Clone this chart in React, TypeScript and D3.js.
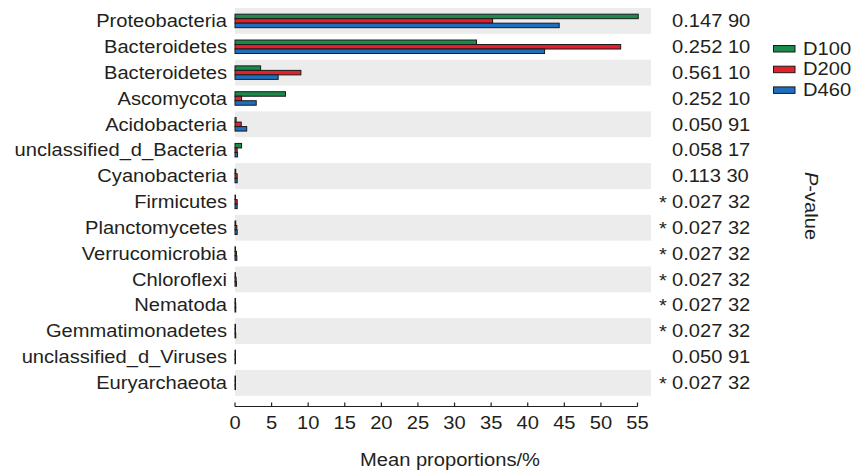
import React from "react";
import * as d3 from "d3";

const categories = [
  "Proteobacteria",
  "Bacteroidetes",
  "Bacteroidetes",
  "Ascomycota",
  "Acidobacteria",
  "unclassified_d_Bacteria",
  "Cyanobacteria",
  "Firmicutes",
  "Planctomycetes",
  "Verrucomicrobia",
  "Chloroflexi",
  "Nematoda",
  "Gemmatimonadetes",
  "unclassified_d_Viruses",
  "Euryarchaeota",
];

const seriesNames = ["D100", "D200", "D460"];
const seriesColors = ["#1b8a4a", "#e3202c", "#1f6fbe"];

const d100 = [55.1, 33.0, 3.5, 6.9, 0.15, 0.9, 0.1, 0.05, 0.1, 0.05, 0.05, 0.05, 0.05, 0.05, 0.05];
const d200 = [35.2, 52.7, 9.0, 0.9, 0.85, 0.3, 0.3, 0.3, 0.25, 0.2, 0.15, 0.1, 0.05, 0.05, 0.05];
const d460 = [44.3, 42.3, 5.9, 2.9, 1.6, 0.35, 0.3, 0.3, 0.3, 0.25, 0.2, 0.1, 0.1, 0.05, 0.05];

const pValues = [
  "0.147 90",
  "0.252 10",
  "0.561 10",
  "0.252 10",
  "0.050 91",
  "0.058 17",
  "0.113 30",
  "0.027 32",
  "0.027 32",
  "0.027 32",
  "0.027 32",
  "0.027 32",
  "0.027 32",
  "0.050 91",
  "0.027 32",
];
const significant = [false, false, false, false, false, false, false, true, true, true, true, true, true, false, true];

const W = 853;
const H = 473;
const FONT = "'Liberation Sans', Arial, sans-serif";
const FS = 18.3;
const SX = 1.1;

export default function App() {
  const series = [d100, d200, d460];
  const x = d3.scaleLinear().domain([0, 55]).range([235, 637.5]);
  const y = d3
    .scaleBand<number>()
    .domain(d3.range(categories.length))
    .range([8, 8 + 25.85 * categories.length])
    .padding(0);
  const bh = 4.5;
  const inner = d3
    .scaleBand<number>()
    .domain(d3.range(seriesNames.length))
    .range([-bh * 1.5, bh * 1.5]);
  const axisY = 406.5;
  const ticks = x.ticks(11);

  const txt = (
    key: string | number,
    tx: number,
    ty: number,
    s: React.ReactNode,
    anchor: "start" | "middle" | "end" = "start"
  ) => (
    <text
      key={key}
      transform={`translate(${tx},${ty}) scale(${SX},1)`}
      textAnchor={anchor}
      dominantBaseline="central"
      fontFamily={FONT}
      fontSize={FS}
      fill="#231f20"
    >
      {s}
    </text>
  );

  return (
    <svg
      width={W}
      height={H}
      style={{ position: "absolute", left: 0, top: 0, background: "#fff" }}
    >
      {/* alternating row bands */}
      {categories.map((_, i) =>
        i % 2 === 0 ? (
          <rect
            key={"band" + i}
            x={x(0)}
            y={y(i)!}
            width={651 - x(0)}
            height={y.bandwidth()}
            fill="#ececec"
          />
        ) : null
      )}

      {/* grouped bars */}
      {categories.map((_, i) => {
        const cy = y(i)! + y.bandwidth() / 2;
        return (
          <g key={"bars" + i}>
            {series.map((vals, s) => (
              <rect
                key={s}
                x={x(0)}
                y={cy + inner(s)!}
                width={Math.max(x(vals[i]) - x(0), 0.5)}
                height={inner.bandwidth()}
                fill={seriesColors[s]}
                stroke="#1a1a1a"
                strokeWidth={1}
              />
            ))}
          </g>
        );
      })}

      {/* category labels */}
      {categories.map((c, i) => txt("lab" + i, 227, y(i)! + y.bandwidth() / 2, c, "end"))}

      {/* p-values */}
      {pValues.map((p, i) => {
        const cy = y(i)! + y.bandwidth() / 2;
        return (
          <g key={"p" + i}>
            {significant[i] ? txt("s", 659, cy + 1, "*") : null}
            {txt("v", 672, cy, p)}
          </g>
        );
      })}

      {/* x axis */}
      <line x1={x(0)} x2={x(55)} y1={axisY} y2={axisY} stroke="#231f20" strokeWidth={1.2} />
      {ticks.map((t) => (
        <g key={"t" + t}>
          <line x1={x(t)} x2={x(t)} y1={axisY} y2={axisY - 4} stroke="#231f20" strokeWidth={1.2} />
          {txt("tl", x(t), 423, String(t), "middle")}
        </g>
      ))}
      {txt("xt", 450, 460, "Mean proportions/%", "middle")}

      {/* legend */}
      {seriesNames.map((n, s) => {
        const cy = 48.5 + s * 20.7;
        return (
          <g key={"lg" + s}>
            <rect
              x={773.5}
              y={cy - 3}
              width={21.5}
              height={6.5}
              fill={seriesColors[s]}
              stroke="#1a1a1a"
              strokeWidth={1}
            />
            {txt("lt", 803, cy, n)}
          </g>
        );
      })}

      {/* p-value axis title */}
      <text
        transform={`translate(811.5,206) rotate(90) scale(${SX},1)`}
        textAnchor="middle"
        dominantBaseline="central"
        fontFamily={FONT}
        fontSize={FS}
        fill="#231f20"
      >
        <tspan fontStyle="italic">P</tspan>-value
      </text>
    </svg>
  );
}
